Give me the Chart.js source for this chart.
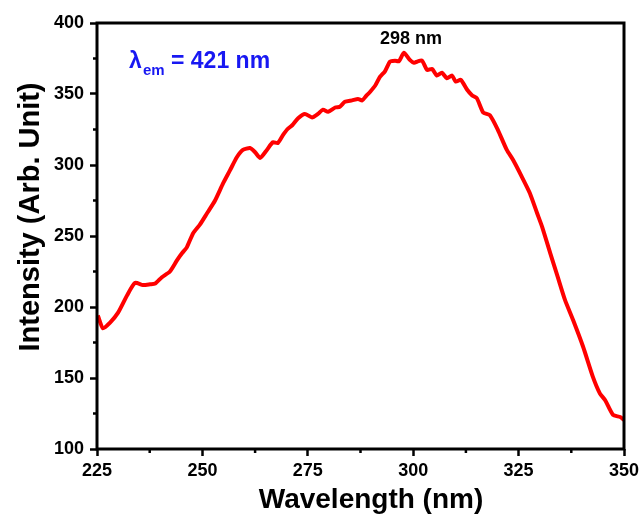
<!DOCTYPE html>
<html>
<head>
<meta charset="utf-8">
<script src="https://cdn.jsdelivr.net/npm/chart.js@4"></script>
<style>
  html, body { margin: 0; padding: 0; background: #fff; }
  #wrap { width: 641px; height: 515px; }
</style>
</head>
<body>
<div id="wrap"><canvas id="plChart" width="641" height="515"></canvas></div>
<script>
/* ── Data ──────────────────────────────────── */
const wavelength = [
  225.2, 226.4, 228.1, 230.0, 232.1, 234.0, 235.9, 237.6, 238.8, 240.4,
  242.3, 244.0, 245.2, 246.3, 247.8, 249.4, 251.1, 253.0, 254.9, 256.5,
  258.2, 259.6, 261.3, 262.5, 263.7, 265.3, 266.7, 267.9, 269.1, 270.1,
  271.3, 272.7, 274.3, 276.0, 277.4, 278.6, 279.8, 281.5, 282.6, 283.8,
  285.5, 286.9, 287.9, 288.8, 289.8, 291.0, 292.1, 293.3, 294.5, 295.7,
  296.6, 297.8, 299.2, 300.2, 301.1, 302.1, 303.3, 304.5, 305.6, 306.8,
  308.0, 309.2, 310.1, 311.3, 312.8, 314.0, 315.1, 316.6, 318.2, 320.1,
  322.2, 323.7, 325.8, 327.7, 329.4, 330.6, 332.5, 334.3, 336.0, 337.9,
  340.3, 342.6, 344.3, 345.5, 347.4, 349.1, 350.0
];
const intensity = [
  194, 185, 189, 196, 208, 217, 215.5, 216, 216.5, 221,
  225, 233, 238, 242, 252, 258, 266, 275, 287, 296,
  305.6, 310.6, 312, 309, 305, 310.6, 316, 315.5, 321, 325,
  328, 333, 336, 333.5, 336, 339, 337.5, 340.5, 341, 344.5,
  345.5, 346.5, 345.5, 348.5, 351.6, 356, 362, 366, 372.8, 373.5,
  373, 379, 374, 372, 373, 373.5, 367, 367.6, 363, 365,
  361, 363, 358.7, 360, 353, 349, 347, 337, 335, 324.6,
  310.6, 303.5, 291.5, 280, 266, 256.3, 238, 221, 205, 191,
  172, 151, 139, 134.5, 124, 122.5, 120.5
];
const xTicks = [225, 250, 275, 300, 325, 350];
const yTicks = [100, 150, 200, 250, 300, 350, 400];
const xMinor = [237.5, 262.5, 287.5, 312.5, 337.5];
const yMinor = [125, 175, 225, 275, 325, 375];

const points = wavelength.map((w, i) => ({ x: w, y: intensity[i] }));

const FONT = '"Liberation Sans", Arial, sans-serif';

/* ── Frame, minor ticks, titles, notes ─────── */
const decorPlugin = {
  id: 'decor',
  afterDraw(chart) {
    const { ctx, chartArea: a, scales: { x, y } } = chart;
    ctx.save();
    ctx.strokeStyle = '#000';
    ctx.lineWidth = 3;
    ctx.strokeRect(a.left, a.top, a.right - a.left, a.bottom - a.top);

    ctx.lineWidth = 2.5;
    xMinor.forEach(v => {
      const px = x.getPixelForValue(v);
      ctx.beginPath(); ctx.moveTo(px, a.bottom); ctx.lineTo(px, a.bottom + 4); ctx.stroke();
    });
    yMinor.forEach(v => {
      const py = y.getPixelForValue(v);
      ctx.beginPath(); ctx.moveTo(a.left, py); ctx.lineTo(a.left - 4, py); ctx.stroke();
    });

    // axis titles
    ctx.fillStyle = '#000';
    ctx.font = `bold 28px ${FONT}`;
    ctx.textAlign = 'center';
    ctx.textBaseline = 'middle';
    ctx.fillText('Wavelength (nm)', 371, 500);
    ctx.save();
    ctx.translate(31, 217);
    ctx.rotate(-Math.PI / 2);
    ctx.font = `bold 29px ${FONT}`;
    ctx.fillText('Intensity (Arb. Unit)', 0, 0);
    ctx.restore();

    // peak label
    ctx.font = `bold 18px ${FONT}`;
    ctx.fillText('298 nm', 411, 39);

    // excitation note
    ctx.fillStyle = '#1818f2';
    ctx.textAlign = 'left';
    ctx.textBaseline = 'alphabetic';
    ctx.font = `bold 23px ${FONT}`;
    ctx.fillText('λ', 129, 68);
    ctx.font = `bold 15px ${FONT}`;
    ctx.fillText('em', 143, 75);
    ctx.font = `bold 23px ${FONT}`;
    ctx.fillText('= 421 nm', 171, 68);
    ctx.restore();
  }
};

const tickFont = { family: FONT, size: 18, weight: 'bold' };

new Chart(document.getElementById('plChart'), {
  type: 'scatter',
  data: {
    datasets: [{
      data: points,
      showLine: true,
      borderColor: '#ff0000',
      borderWidth: 4,
      pointRadius: 0,
      tension: 0.2,
      fill: false,
    }],
  },
  options: {
    responsive: false,
    animation: false,
    layout: { padding: { left: 0, right: 17, top: 23, bottom: 0 } },
    plugins: { legend: { display: false }, tooltip: { enabled: false } },
    scales: {
      x: {
        type: 'linear',
        min: 225, max: 350,
        afterBuildTicks: s => { s.ticks = xTicks.map(v => ({ value: v })); },
        afterFit: s => { s.height = 66; s.paddingLeft = 0; s.paddingRight = 0; },
        ticks: { color: '#000', font: tickFont, padding: 4, maxRotation: 0 },
        grid: { drawOnChartArea: false, tickLength: 7, tickWidth: 2.5, tickColor: '#000' },
        border: { display: false },
      },
      y: {
        min: 100, max: 400,
        afterBuildTicks: s => { s.ticks = yTicks.map(v => ({ value: v })); },
        afterFit: s => { s.width = 97; s.paddingTop = 0; s.paddingBottom = 0; },
        ticks: { color: '#000', font: tickFont, padding: 6 },
        grid: { drawOnChartArea: false, tickLength: 7, tickWidth: 2.5, tickColor: '#000' },
        border: { display: false },
      },
    },
  },
  plugins: [decorPlugin],
});
</script>
</body>
</html>
